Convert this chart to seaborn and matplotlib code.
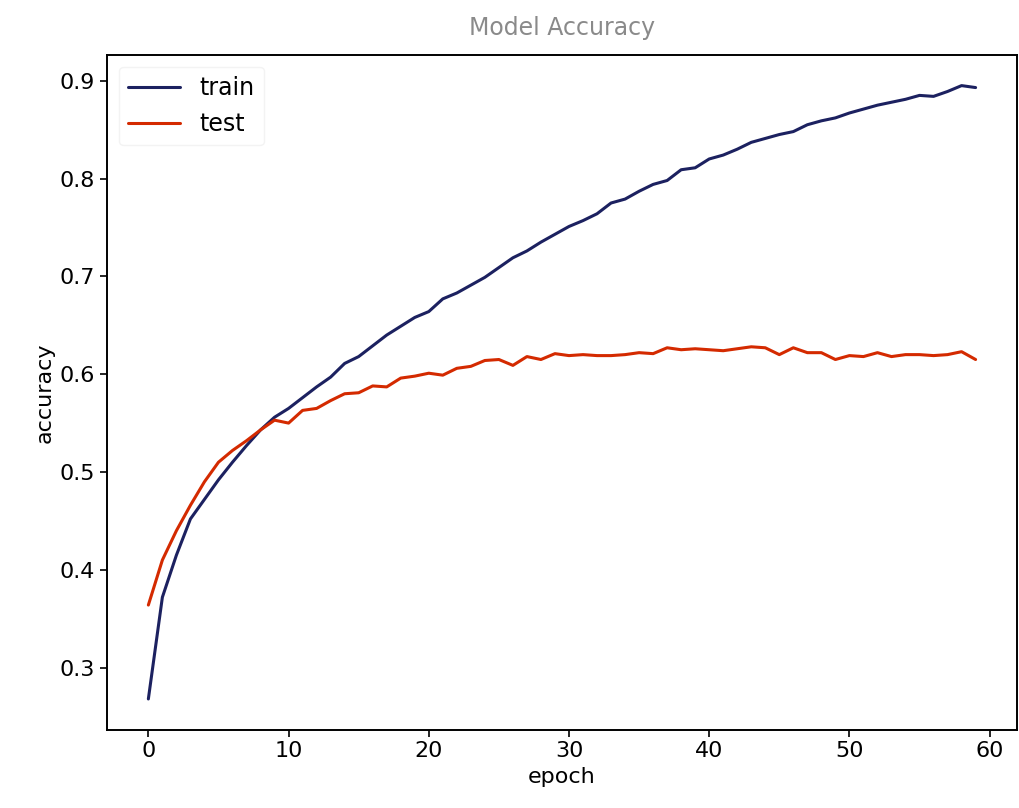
import numpy as np
import pandas as pd
import matplotlib
matplotlib.use("Agg")
import matplotlib.pyplot as plt
import seaborn as sns

# accuracy per epoch
epochs = list(range(60))
train_acc = [0.268, 0.372, 0.415, 0.452, 0.472, 0.492, 0.510, 0.527, 0.543, 0.556,
             0.565, 0.576, 0.587, 0.597, 0.611, 0.618, 0.629, 0.640, 0.649, 0.658,
             0.664, 0.677, 0.683, 0.691, 0.699, 0.709, 0.719, 0.726, 0.735, 0.743,
             0.751, 0.757, 0.764, 0.775, 0.779, 0.787, 0.794, 0.798, 0.809, 0.811,
             0.820, 0.824, 0.830, 0.837, 0.841, 0.845, 0.848, 0.855, 0.859, 0.862,
             0.867, 0.871, 0.875, 0.878, 0.881, 0.885, 0.884, 0.889, 0.895, 0.893]
test_acc = [0.364, 0.410, 0.440, 0.466, 0.490, 0.510, 0.522, 0.532, 0.543, 0.553,
            0.550, 0.563, 0.565, 0.573, 0.580, 0.581, 0.588, 0.587, 0.596, 0.598,
            0.601, 0.599, 0.606, 0.608, 0.614, 0.615, 0.609, 0.618, 0.615, 0.621,
            0.619, 0.620, 0.619, 0.619, 0.620, 0.622, 0.621, 0.627, 0.625, 0.626,
            0.625, 0.624, 0.626, 0.628, 0.627, 0.620, 0.627, 0.622, 0.622, 0.615,
            0.619, 0.618, 0.622, 0.618, 0.620, 0.620, 0.619, 0.620, 0.623, 0.615]

dt = pd.DataFrame({"epoch": epochs * 2,
                   "accuracy": train_acc + test_acc,
                   "set": ["train"] * 60 + ["test"] * 60})

sns.set_theme(style="ticks")
plt.rcParams["font.family"] = ["DejaVu Sans"]
plt.rcParams["text.color"] = "black"
plt.rcParams["axes.labelcolor"] = "black"
plt.rcParams["xtick.color"] = "black"
plt.rcParams["ytick.color"] = "black"

fig = plt.figure(figsize=(10.19, 8.08), dpi=100)
ax = fig.add_axes([0.105, 0.097, 0.893, 0.835])

sns.lineplot(data=dt, x="epoch", y="accuracy", hue="set",
             palette={"train": "#1c2160", "test": "#d42a00"},
             linewidth=2.2, ax=ax)

ax.set_title("Model Accuracy", fontsize=17, color="#8a8a8a", pad=14)
ax.set_xlabel("epoch", fontsize=16)
ax.set_ylabel("accuracy", fontsize=16)
ax.tick_params(labelsize=16, length=5, width=1.2)
ax.set_xticks([0, 10, 20, 30, 40, 50, 60])
ax.set_yticks([0.3, 0.4, 0.5, 0.6, 0.7, 0.8, 0.9])
for sp in ax.spines.values():
    sp.set_linewidth(1.4)
    sp.set_color("black")

leg = ax.legend(loc="upper left", fontsize=17, frameon=True, handlelength=2.2)
leg.get_frame().set_edgecolor("#f0f0f0")

fig.savefig("out.png", dpi=100)
